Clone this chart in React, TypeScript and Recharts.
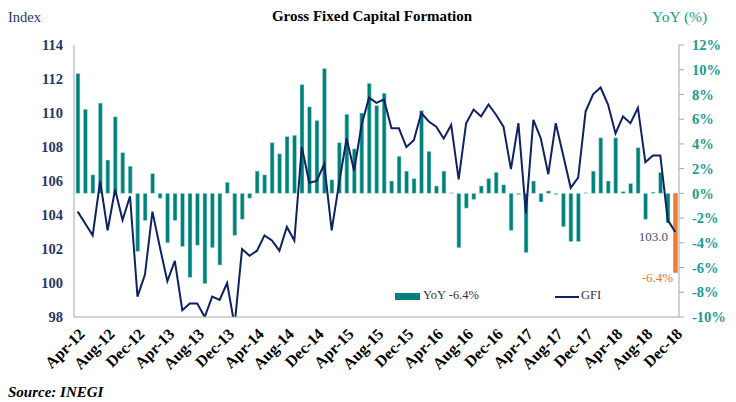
import React from 'react';
import { ComposedChart, Bar, Line, XAxis, YAxis, Cell } from 'recharts';

const months = [
  'Apr-12', 'May-12', 'Jun-12', 'Jul-12', 'Aug-12', 'Sep-12', 'Oct-12', 'Nov-12', 'Dec-12',
  'Jan-13', 'Feb-13', 'Mar-13', 'Apr-13', 'May-13', 'Jun-13', 'Jul-13', 'Aug-13', 'Sep-13', 'Oct-13', 'Nov-13', 'Dec-13',
  'Jan-14', 'Feb-14', 'Mar-14', 'Apr-14', 'May-14', 'Jun-14', 'Jul-14', 'Aug-14', 'Sep-14', 'Oct-14', 'Nov-14', 'Dec-14',
  'Jan-15', 'Feb-15', 'Mar-15', 'Apr-15', 'May-15', 'Jun-15', 'Jul-15', 'Aug-15', 'Sep-15', 'Oct-15', 'Nov-15', 'Dec-15',
  'Jan-16', 'Feb-16', 'Mar-16', 'Apr-16', 'May-16', 'Jun-16', 'Jul-16', 'Aug-16', 'Sep-16', 'Oct-16', 'Nov-16', 'Dec-16',
  'Jan-17', 'Feb-17', 'Mar-17', 'Apr-17', 'May-17', 'Jun-17', 'Jul-17', 'Aug-17', 'Sep-17', 'Oct-17', 'Nov-17', 'Dec-17',
  'Jan-18', 'Feb-18', 'Mar-18', 'Apr-18', 'May-18', 'Jun-18', 'Jul-18', 'Aug-18', 'Sep-18', 'Oct-18', 'Nov-18', 'Dec-18',
];

// YoY change, %
const yoy = [
  9.7, 6.8, 1.5, 7.3, 2.7, 6.2, 3.3, 2.2, -4.7, -2.2,
  1.6, -0.4, -4.0, -2.2, -4.3, -6.8, -4.2, -7.3, -4.4, -5.8,
  0.9, -3.4, -2.1, -0.4, 1.8, 1.5, 4.1, 3.2, 4.6, 4.7,
  8.8, 7.0, 5.9, 10.1, 1.1, 4.1, 6.4, 3.6, 6.5, 8.9,
  7.1, 8.1, 1.0, 3.0, 1.8, 1.2, 6.7, 3.4, 0.6, 1.8,
  0.05, -4.4, -1.2, -0.5, 0.6, 1.2, 1.7, 0.7, -3.0, -0.1,
  -4.8, 1.0, -0.7, 0.2, -0.1, -2.7, -3.9, -3.9, 0.05, 1.8,
  4.5, 1.0, 4.5, 0.15, 0.8, 3.7, -2.1, 0.1, 1.7, -2.4,
  -6.4,
];

// GFI index level
const gfi = [
  104.2, 103.5, 102.8, 106.0, 103.1, 105.5, 103.7, 105.1, 99.2, 100.5,
  104.2, 102.1, 100.1, 101.3, 98.4, 98.8, 98.8, 98.0, 99.2, 99.0,
  100.0, 97.5, 102.0, 101.6, 101.9, 102.8, 102.5, 101.9, 103.3, 102.5,
  108.0, 105.9, 106.0, 107.0, 103.1, 105.9, 108.5, 106.6, 109.3, 110.9,
  110.6, 110.8, 109.1, 109.1, 108.0, 108.4, 110.0, 109.5, 109.2, 108.5,
  109.3, 106.1, 109.4, 110.2, 109.8, 110.5, 109.9, 109.2, 106.7, 109.4,
  104.1, 109.6, 108.5, 106.4, 109.4, 107.5, 105.6, 106.2, 110.1, 111.1,
  111.5, 110.5, 108.8, 109.8, 109.4, 110.3, 107.1, 107.5, 107.5, 103.7,
  103.0,
];

const indexTicks = [98, 100, 102, 104, 106, 108, 110, 112, 114];
const yoyTicks = [-10, -8, -6, -4, -2, 0, 2, 4, 6, 8, 10, 12];

const data = months.map((month, i) => ({ month, yoy: yoy[i], gfi: gfi[i] }));
const last = data.length - 1;

const serif = '"Liberation Serif", "Times New Roman", serif';
const TEAL = '#00827C';
const NAVY = '#0D2262';
const ORANGE = '#ED7D31';
const AXIS = '#A6A6A6';

function MonthTick({ x, y, payload }: any) {
  return (
    <text
      transform={`translate(${x + 8},${y + 16}) rotate(-45)`}
      textAnchor="end"
      fontFamily={serif}
      fontWeight="bold"
      fontSize={16}
      fill="#000"
    >
      {payload.value}
    </text>
  );
}

function GfiLabel(p: any) {
  if (p.index !== last) return null;
  return (
    <text x={p.x - 22} y={p.y + 9} textAnchor="middle" fontFamily={serif} fontSize={13} fill="#44546A">
      {Number(p.value).toFixed(1)}
    </text>
  );
}

function YoyLabel(p: any) {
  if (p.index !== last) return null;
  const bottom = Math.max(p.y, p.y + p.height);
  return (
    <text x={p.x + p.width / 2 - 18} y={bottom + 10} textAnchor="middle" fontFamily={serif} fontSize={13} fill="#E2772F">
      {`${Number(p.value).toFixed(1)}%`}
    </text>
  );
}

export default function App() {
  return (
    <div style={{ position: 'absolute', left: 0, top: 0, width: 736, height: 402, background: '#fff', fontFamily: serif }}>
      <div style={{ position: 'absolute', left: 0, width: 736, top: 8, textAlign: 'center', fontWeight: 'bold', fontSize: 15, color: '#000', paddingLeft: 4 }}>
        Gross Fixed Capital Formation
      </div>
      <div style={{ position: 'absolute', left: 8, top: 9, fontSize: 14.5, color: '#1F3864' }}>Index</div>
      <div style={{ position: 'absolute', left: 652, top: 8, fontSize: 15.5, color: '#1B9A92' }}>YoY (%)</div>

      <ComposedChart
        width={736}
        height={402}
        data={data}
        margin={{ top: 45, right: 7, bottom: 25, left: 34 }}
        barCategoryGap="26%"
      >
        <XAxis
          dataKey="month"
          interval={3}
          tickLine={false}
          tickSize={0}
          axisLine={{ stroke: AXIS }}
          tick={<MonthTick />}
          height={60}
        />
        <YAxis
          yAxisId="left"
          domain={[98, 114]}
          ticks={indexTicks}
          allowDataOverflow
          width={40}
          tickLine={false}
          tickSize={3}
          tickMargin={8}
          axisLine={{ stroke: AXIS }}
          tick={{ fill: '#1F3864', fontWeight: 'bold', fontSize: 14.5, fontFamily: serif }}
        />
        <YAxis
          yAxisId="right"
          orientation="right"
          domain={[-10, 12]}
          ticks={yoyTicks}
          width={50}
          tickSize={5}
          tickMargin={8}
          tickLine={{ stroke: AXIS }}
          axisLine={{ stroke: AXIS }}
          tickFormatter={(v) => `${v}%`}
          tick={{ fill: '#1B9A92', fontWeight: 'bold', fontSize: 14.5, fontFamily: serif, textAnchor: 'start' }}
        />
        <Bar yAxisId="right" dataKey="yoy" isAnimationActive={false} stroke="#CDE9E7" strokeWidth={0.5} label={<YoyLabel />}>
          {data.map((d, i) => (
            <Cell key={d.month} fill={i === last ? ORANGE : TEAL} stroke={i === last ? ORANGE : '#CDE9E7'} />
          ))}
        </Bar>
        <Line
          yAxisId="left"
          dataKey="gfi"
          type="linear"
          stroke={NAVY}
          strokeWidth={2}
          dot={false}
          isAnimationActive={false}
          label={<GfiLabel />}
        />
      </ComposedChart>

      <div style={{ position: 'absolute', left: 395, top: 293, width: 25, height: 7, background: TEAL }} />
      <div style={{ position: 'absolute', left: 423, top: 288, fontSize: 12.5, color: '#333' }}>YoY -6.4%</div>
      <div style={{ position: 'absolute', left: 555, top: 296, width: 24, height: 2, background: NAVY }} />
      <div style={{ position: 'absolute', left: 581, top: 288, fontSize: 12.5, color: '#333' }}>GFI</div>

      <div style={{ position: 'absolute', left: 8, top: 384, fontSize: 15, fontWeight: 'bold', fontStyle: 'italic', color: '#000' }}>
        Source: INEGI
      </div>
    </div>
  );
}
